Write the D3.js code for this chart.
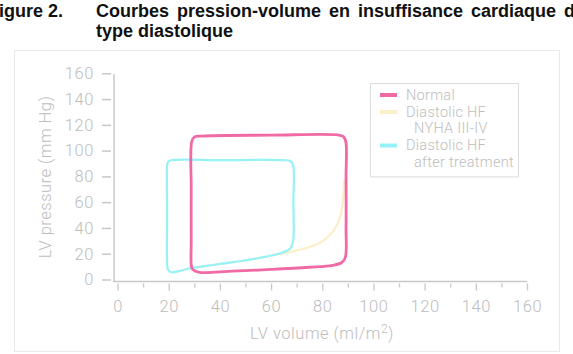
<!DOCTYPE html>
<html>
<head>
<meta charset="utf-8">
<script src="https://cdn.jsdelivr.net/npm/d3@7"></script>
<style>
  body { margin: 0; background: #fff; }
  svg { display: block; }
</style>
</head>
<body>
<div id="chart"></div>
<script>
// pressure-volume loops, values (volume ml/m2, pressure mm Hg)
var normalLoop = [
  [29.5, 7.5], [32, 5.5], [45, 6.5], [60, 7.8], [75, 9.5], [84, 11], [87.5, 13],
  [89, 17], [89.3, 40], [89.3, 80], [89.2, 107], [88.2, 111], [86, 112.2],
  [60, 112], [33, 111.3], [30, 110.5], [29, 107], [28.8, 70], [28.8, 30], [28.9, 10]
];
var nyhaCurve = [
  [29, 9], [40, 12], [52, 15.5], [64, 20], [72, 23.5], [77, 26.5], [81, 31],
  [84, 37], [86.2, 44], [87.6, 54], [88.3, 66], [88.6, 78]
];
var treatedLoop = [
  [19.8, 7.5], [21, 5.6], [24, 6.5], [28, 8.5], [40, 12], [55, 16.5], [64, 20.5],
  [67.5, 24], [68.6, 30], [68.7, 60], [68.6, 89], [67.5, 92], [65, 92.6],
  [40, 92.6], [21, 92.5], [19.7, 91], [19.4, 88], [19.4, 50], [19.4, 12]
];

var xTicks = d3.range(0, 161, 10);
var yTicks = d3.range(0, 161, 20);
var legendLabels = [["Normal"], ["Diastolic HF", "NYHA III-IV"], ["Diastolic HF", "after treatment"]];
var legendColors = ["#f06aa5", "#faefc8", "#96f2f7"];

var W = 573, H = 354;
var svg = d3.select("#chart").append("svg")
  .attr("width", W)
  .attr("height", H);

// title (cut at the page edges, as in the source figure)
var title = svg.append("g")
  .style("font-family", "'Liberation Sans', Arial, sans-serif")
  .style("font-weight", "bold")
  .style("font-size", "18px")
  .attr("fill", "#111");
title.append("text").attr("x", -12).attr("y", 17).text("Figure 2.");
title.append("text").attr("x", 96).attr("y", 17)
  .style("word-spacing", "3px")
  .text("Courbes pression-volume en insuffisance cardiaque de");
title.append("text").attr("x", 96).attr("y", 37).text("type diastolique");

// light frame round the figure
svg.append("rect")
  .attr("x", 14.5).attr("y", 50.5)
  .attr("width", 545).attr("height", 301)
  .attr("fill", "none")
  .attr("stroke", "#e9e9e9");

// scales
var x = d3.scaleLinear().domain([0, 160]).range([117.5, 527]);
var y = d3.scaleLinear().domain([0, 160]).range([279.5, 73.3]);

var axisColor = "#c8c8c8", labelColor = "#bdbdbd";
var font = "Roboto, 'Liberation Sans', sans-serif";
var tickSize = "16.5px";

// y axis
var yAxis = svg.append("g")
  .attr("transform", "translate(114,0)")
  .call(d3.axisLeft(y).tickValues(yTicks).tickSize(9).tickPadding(11));
yAxis.select(".domain").remove();
yAxis.selectAll(".tick line")
  .attr("x1", -3).attr("x2", -12)
  .attr("stroke", axisColor).attr("stroke-width", 1.5);
yAxis.selectAll(".tick text")
  .attr("x", -20)
  .style("font-family", font).style("font-weight", 300)
  .style("font-size", tickSize).style("letter-spacing", "0.6px")
  .attr("fill", labelColor);
svg.append("line")
  .attr("x1", 114).attr("x2", 114)
  .attr("y1", y(160) + 1).attr("y2", 282)
  .attr("stroke", axisColor).attr("stroke-width", 1.5);

// x axis
var xAxis = svg.append("g")
  .attr("transform", "translate(0,281.5)")
  .call(d3.axisBottom(x).tickValues(xTicks)
    .tickFormat(function (d) { return d % 20 === 0 ? d : ""; }));
xAxis.select(".domain").remove();
xAxis.selectAll(".tick line")
  .attr("y1", 2)
  .attr("y2", function (d) { return d % 20 === 0 ? 9 : 6; })
  .attr("stroke", axisColor).attr("stroke-width", 1.3);
xAxis.selectAll(".tick text")
  .attr("y", 30.5).attr("dy", 0)
  .style("font-family", font).style("font-weight", 300)
  .style("font-size", tickSize).style("letter-spacing", "0.6px")
  .attr("fill", labelColor);
svg.append("line")
  .attr("x1", 113.5).attr("x2", x(160))
  .attr("y1", 281.5).attr("y2", 281.5)
  .attr("stroke", axisColor).attr("stroke-width", 1.5);

// axis titles
svg.append("text")
  .attr("transform", "translate(51,177) rotate(-90)")
  .attr("text-anchor", "middle")
  .style("font-family", font).style("font-weight", 300).style("font-size", "16.5px")
  .style("letter-spacing", "0.5px")
  .attr("fill", labelColor)
  .text("LV pressure (mm Hg)");
var xt = svg.append("text")
  .attr("x", 322).attr("y", 338.5)
  .attr("text-anchor", "middle")
  .style("font-family", font).style("font-weight", 300).style("font-size", "16.5px")
  .style("letter-spacing", "0.5px")
  .attr("fill", labelColor);
xt.append("tspan").text("LV volume (ml/m");
xt.append("tspan").attr("dy", -6).style("font-size", "12px").text("2");
xt.append("tspan").attr("dy", 6).text(")");

// curves
var loopLine = d3.line()
  .x(function (d) { return x(d[0]); })
  .y(function (d) { return y(d[1]); })
  .curve(d3.curveCatmullRomClosed.alpha(0.5));
var openLine = d3.line()
  .x(function (d) { return x(d[0]); })
  .y(function (d) { return y(d[1]); })
  .curve(d3.curveCatmullRom.alpha(0.5));

svg.append("path")
  .attr("d", openLine(nyhaCurve))
  .attr("fill", "none").attr("stroke", legendColors[1]).attr("stroke-width", 2.2);
svg.append("path")
  .attr("d", loopLine(treatedLoop))
  .attr("fill", "none").attr("stroke", legendColors[2]).attr("stroke-width", 2.2);
svg.append("path")
  .attr("d", loopLine(normalLoop))
  .attr("fill", "none").attr("stroke", legendColors[0]).attr("stroke-width", 2.8);

// legend
var legend = svg.append("g").attr("transform", "translate(370,83)");
legend.append("rect")
  .attr("x", 0.5).attr("y", 0.5).attr("width", 148).attr("height", 93)
  .attr("fill", "#fff").attr("stroke", "#dcdcdc");
legend.append("line")
  .attr("x1", 1).attr("x2", 149).attr("y1", 94).attr("y2", 94)
  .attr("stroke", "#ececec").attr("stroke-width", 1.5);

var rowY = [16.5, 33.5, 67];
legendLabels.forEach(function (lines, i) {
  var g = legend.append("g").attr("transform", "translate(0," + rowY[i] + ")");
  g.append("line")
    .attr("x1", 10).attr("x2", 27)
    .attr("y1", -4.5).attr("y2", -4.5)
    .attr("stroke", legendColors[i]).attr("stroke-width", 4);
  lines.forEach(function (t, j) {
    g.append("text")
      .attr("x", j === 0 ? 36 : 44)
      .attr("y", j * 16.5)
      .style("font-family", font).style("font-weight", 300).style("font-size", "14.5px")
      .style("letter-spacing", "0.3px")
      .attr("fill", labelColor)
      .text(t);
  });
});
</script>
</body>
</html>
